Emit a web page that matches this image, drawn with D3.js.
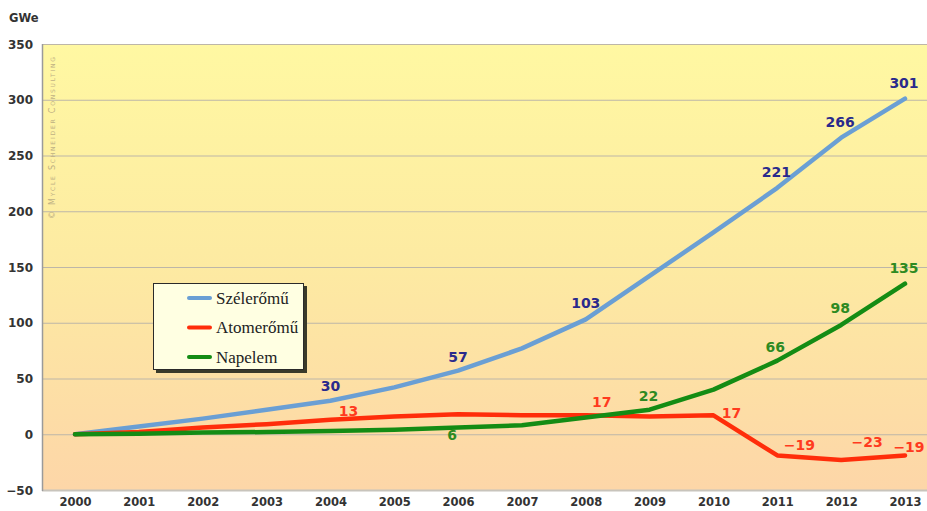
<!DOCTYPE html>
<html>
<head>
<meta charset="utf-8">
<script src="https://cdn.jsdelivr.net/npm/d3@7"></script>
<style>
  body { margin: 0; background: #fff; }
  svg { display: block; }
</style>
</head>
<body>
<div id="chart"></div>
<script>
// data
var years = [2000, 2001, 2002, 2003, 2004, 2005, 2006, 2007, 2008, 2009, 2010, 2011, 2012, 2013];
var szeleromu = [0, 7, 14, 22, 30, 42, 57, 77, 103, 142, 181, 221, 266, 301];
var atomeromu = [0, 2, 6, 9, 13, 16, 18, 17, 17, 16, 17, -19, -23, -19];
var napelem = [0, 0.5, 1.5, 2, 3, 4, 6, 8, 15, 22, 40, 66, 98, 135];
var yTicks = [-50, 0, 50, 100, 150, 200, 250, 300, 350];
var seriesNames = ["Szélerőmű", "Atomerőmű", "Napelem"];

// which points get a value label (year index) + label offset
var szelLabels = [[4, 0, -15], [6, 0, -14], [8, 0, -16], [11, -1, -16], [12, -1, -16], [13, -1, -16]];
var atomLabels = [[4, 18, -9], [8, 16, -13], [10, 18, -2], [11, 22, -10], [12, 26, -18], [13, 4, -8]];
var napLabels = [[6, -6, 8], [9, -1, -14], [11, -2, -14], [12, -1, -17], [13, -1, -16]];

var W = 927, H = 511;
var plot = {left: 42, top: 44, right: 927, bottom: 490};

var svg = d3.select("#chart").append("svg")
  .attr("width", W)
  .attr("height", H);

var x = d3.scaleLinear()
  .domain([2000, 2013])
  .range([75, 905]);

var y = d3.scaleLinear()
  .domain([-50, 350])
  .range([plot.bottom, plot.top]);

// background gradient
var defs = svg.append("defs");
var grad = defs.append("linearGradient")
  .attr("id", "bg")
  .attr("x1", 0).attr("y1", 0).attr("x2", 0).attr("y2", 1);
grad.append("stop").attr("offset", "0%").attr("stop-color", "#fff8a2");
grad.append("stop").attr("offset", "50%").attr("stop-color", "#fdeaa2");
grad.append("stop").attr("offset", "100%").attr("stop-color", "#fdd6a8");

svg.append("rect")
  .attr("x", plot.left)
  .attr("y", plot.top)
  .attr("width", plot.right - plot.left)
  .attr("height", plot.bottom - plot.top)
  .attr("fill", "url(#bg)");

// grid lines
svg.append("g")
  .selectAll("line")
  .data(yTicks)
  .enter()
  .append("line")
    .attr("x1", plot.left)
    .attr("x2", plot.right)
    .attr("y1", function(d) { return y(d) + 0.5; })
    .attr("y2", function(d) { return y(d) + 0.5; })
    .attr("stroke", function(d) { return d == -50 ? "#c8c4bc" : "#bdb6a8"; })
    .attr("stroke-width", function(d) { return d == -50 ? 2 : 1; });

// left axis line
svg.append("line")
  .attr("x1", plot.left + 0.5).attr("x2", plot.left + 0.5)
  .attr("y1", plot.top).attr("y2", plot.bottom + 1)
  .attr("stroke", "#9a9a9a")
  .attr("stroke-width", 1.5);

// y axis
var yAxis = svg.append("g")
  .attr("transform", "translate(" + (plot.left - 9) + ",0)")
  .call(d3.axisLeft(y).tickValues(yTicks).tickSize(0).tickPadding(0));
yAxis.select(".domain").remove();
yAxis.selectAll("text")
  .attr("dy", "0.35em")
  .style("font-family", "DejaVu Sans")
  .style("font-weight", "bold")
  .style("font-size", "12px")
  .attr("fill", "#333");

// x axis
var xAxis = svg.append("g")
  .attr("transform", "translate(0," + (plot.bottom + 8) + ")")
  .call(d3.axisBottom(x).tickValues(years).tickFormat(d3.format("d")).tickSize(0).tickPadding(0));
xAxis.select(".domain").remove();
xAxis.selectAll("text")
  .attr("dy", "0.71em")
  .style("font-family", "DejaVu Sans")
  .style("font-weight", "bold")
  .style("font-size", "11.5px")
  .attr("fill", "#333");

// unit
svg.append("text")
  .attr("x", 9)
  .attr("y", 22)
  .style("font-family", "DejaVu Sans")
  .style("font-weight", "bold")
  .style("font-size", "11.5px")
  .attr("fill", "#333")
  .text("GWe");

// watermark
svg.append("text")
  .attr("transform", "translate(55,219) rotate(-90)")
  .attr("textLength", 162)
  .attr("lengthAdjust", "spacing")
  .style("font-family", "DejaVu Sans")
  .style("font-size", "8px")
  .style("font-variant", "small-caps")
  .attr("fill", "#bfb184")
  .text("© Mycle Schneider Consulting");

// lines
var line = d3.line()
  .x(function(d, i) { return x(years[i]); })
  .y(function(d) { return y(d); });

var series = [
  {values: szeleromu, color: "#6a9fd4", label: "#2a2a8c", labels: szelLabels, weight: "bold", size: "14px"},
  {values: atomeromu, color: "#ff2d0a", label: "#ff3a1e", labels: atomLabels, weight: "bold", size: "14px"},
  {values: napelem, color: "#148c14", label: "#2e8a22", labels: napLabels, weight: "bold", size: "14px"}
];

svg.append("g")
  .selectAll("path")
  .data(series)
  .enter()
  .append("path")
    .attr("d", function(d) { return line(d.values); })
    .attr("fill", "none")
    .attr("stroke", function(d) { return d.color; })
    .attr("stroke-width", 4.5)
    .attr("stroke-linejoin", "round")
    .attr("stroke-linecap", "round");

// value labels
series.forEach(function(s) {
  svg.append("g")
    .selectAll("text")
    .data(s.labels)
    .enter()
    .append("text")
      .attr("x", function(d) { return x(years[d[0]]) + d[1]; })
      .attr("y", function(d) { return y(s.values[d[0]]) + d[2]; })
      .attr("dy", "0.35em")
      .attr("text-anchor", "middle")
      .style("font-family", "DejaVu Sans")
      .style("font-weight", s.weight)
      .style("font-size", s.size)
      .attr("fill", s.label)
      .text(function(d) { return d3.format("d")(s.values[d[0]]).replace("-", "–"); });
});

// legend
var lg = svg.append("g").attr("transform", "translate(153,283)");
lg.append("rect")
  .attr("x", 3).attr("y", 3)
  .attr("width", 151).attr("height", 87)
  .attr("fill", "#3a3a2a");
lg.append("rect")
  .attr("x", 0.5).attr("y", 0.5)
  .attr("width", 150).attr("height", 86)
  .attr("fill", "#ffffe2")
  .attr("stroke", "#2a2a2a")
  .attr("stroke-width", 1);

var items = lg.selectAll(".item")
  .data(seriesNames)
  .enter()
  .append("g")
    .attr("transform", function(d, i) { return "translate(0," + (15 + i * 29.5) + ")"; });
items.append("line")
  .attr("x1", 36).attr("x2", 57)
  .attr("stroke", function(d, i) { return series[i].color; })
  .attr("stroke-width", 4)
  .attr("stroke-linecap", "round");
items.append("text")
  .attr("x", 63)
  .attr("dy", "0.35em")
  .style("font-family", "Liberation Serif")
  .style("font-size", "17px")
  .attr("fill", "#222")
  .text(function(d) { return d; });
</script>
</body>
</html>
